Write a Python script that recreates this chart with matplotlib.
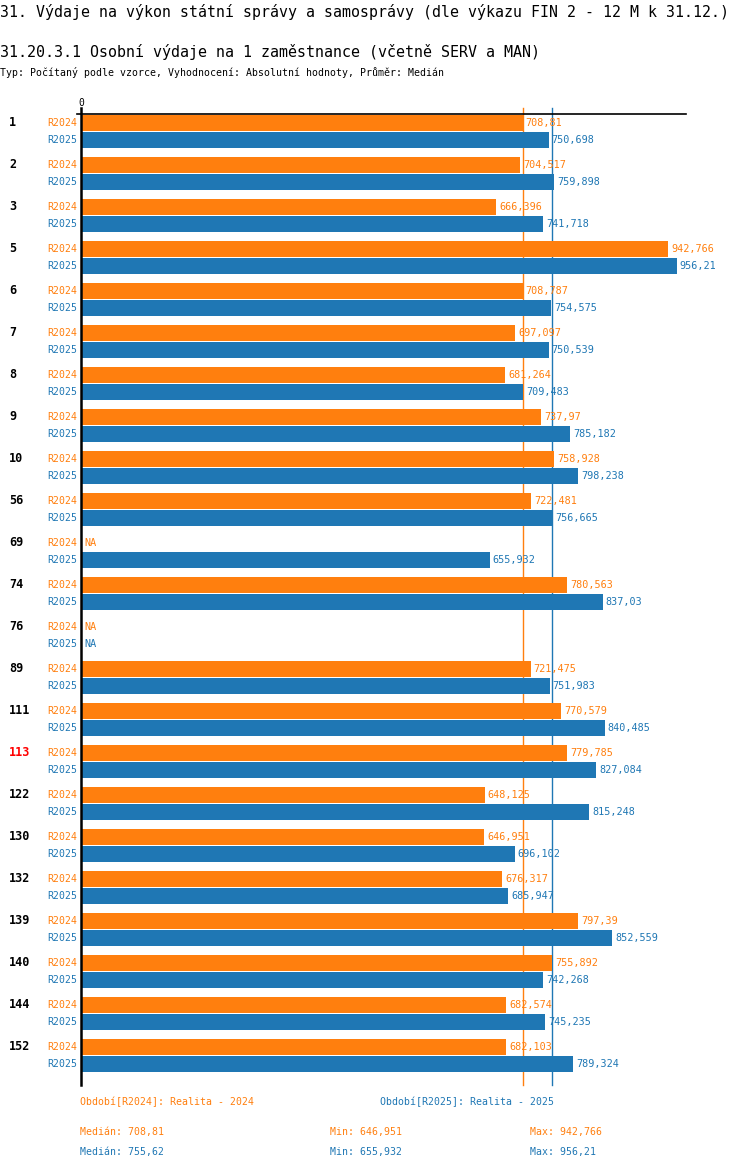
import matplotlib
matplotlib.use('Agg')
import matplotlib.pyplot as plt
import numpy as np

plt.rcParams['font.family'] = ['DejaVu Sans Mono', 'DejaVu Sans']

# data
groups = ['1', '2', '3', '5', '6', '7', '8', '9', '10', '56', '69', '74', '76',
          '89', '111', '113', '122', '130', '132', '139', '140', '144', '152']
r2024 = [708.81, 704.517, 666.396, 942.766, 708.787, 697.097, 681.264, 737.97,
         758.928, 722.481, None, 780.563, None, 721.475, 770.579, 779.785,
         648.125, 646.951, 676.317, 797.39, 755.892, 682.574, 682.103]
r2025 = [750.698, 759.898, 741.718, 956.21, 754.575, 750.539, 709.483, 785.182,
         798.238, 756.665, 655.932, 837.03, None, 751.983, 840.485, 827.084,
         815.248, 696.102, 685.947, 852.559, 742.268, 745.235, 789.324]
series_names = ['R2024', 'R2025']
series_desc = ['Období[R2024]: Realita - 2024', 'Období[R2025]: Realita - 2025']
medians = [708.81, 755.62]
mins = [646.951, 655.932]
maxs = [942.766, 956.21]
highlight = '113'

ORANGE = '#ff7f0e'
BLUE = '#1f77b4'
colors = [ORANGE, BLUE]

W, H = 750, 1170


def fmt(v):
    return str(v).replace('.', ',')


def fy(px):
    return 1 - px / H


fig = plt.figure(figsize=(7.5, 11.7), dpi=100)

# header
fig.text(0, fy(12), '31. Výdaje na výkon státní správy a samosprávy (dle výkazu FIN 2 - 12 M k 31.12.)',
         fontsize=10.75, va='center', ha='left')
fig.text(0, fy(52), '31.20.3.1 Osobní výdaje na 1 zaměstnance (včetně SERV a MAN)',
         fontsize=10.8, va='center', ha='left')
fig.text(0, fy(73), 'Typ: Počítaný podle vzorce, Vyhodnocení: Absolutní hodnoty, Průměr: Medián',
         fontsize=7.15, va='center', ha='left')

left_px, right_px, top_px, bot_px = 81, 686, 114, 1085
ax = fig.add_axes([left_px / W, 1 - bot_px / H, (right_px - left_px) / W, (bot_px - top_px) / H])
ax.axis('off')

gap = 42.0  # px per group
xmax = 971
ax.set_xlim(0, xmax)
ax.set_ylim((bot_px - top_px) / gap, 0)

n = len(groups)
idx = np.arange(n)
offs = [9 / gap, 26 / gap]
bh = 16.5 / gap
px_x = xmax / (right_px - left_px)  # data units per pixel in x
px_y = 1 / gap

# median lines behind bars
for m, c in zip(medians, colors):
    ax.plot([m, m], [-6 * px_y, (bot_px - top_px) * px_y], color=c, lw=1, zorder=1, clip_on=False)

for s, (vals, c, name) in enumerate(zip([r2024, r2025], colors, series_names)):
    ys = idx + offs[s]
    for y, v in zip(ys, vals):
        if v is None:
            ax.text(3 * px_x, y, 'NA', color=c, fontsize=7.3, va='center', ha='left')
        else:
            ax.barh(y, v, height=bh, color=c, zorder=2)
            ax.text(v + 3 * px_x, y, fmt(v), color=c, fontsize=7.3, va='center', ha='left', zorder=3)
        ax.text(-4 * px_x, y, name, color=c, fontsize=7.1, va='center', ha='right')

for i, g in zip(idx, groups):
    ax.text(-72 * px_x, i + offs[0], g, fontsize=8.5, fontweight='bold',
            color='red' if g == highlight else 'black', va='center', ha='left')

# axis lines
ax.plot([-4 * px_x, xmax], [0, 0], color='black', lw=1.2, zorder=4, clip_on=False)
ax.plot([0, 0], [-6 * px_y, (bot_px - top_px) * px_y], color='black', lw=1.8, zorder=4, clip_on=False)
ax.text(0, -11 * px_y, '0', fontsize=7, ha='center', va='center')

# footer
for s, c in enumerate(colors):
    fig.text(80 / W + s * 300 / W, fy(1102), series_desc[s], color=c, fontsize=7.1, va='center')
    yy = fy(1132 + 20 * s)
    fig.text(80 / W, yy, 'Medián: ' + fmt(medians[s]), color=c, fontsize=7.1, va='center')
    fig.text(330 / W, yy, 'Min: ' + fmt(mins[s]), color=c, fontsize=7.1, va='center')
    fig.text(530 / W, yy, 'Max: ' + fmt(maxs[s]), color=c, fontsize=7.1, va='center')

fig.savefig('out.png', dpi=100)
